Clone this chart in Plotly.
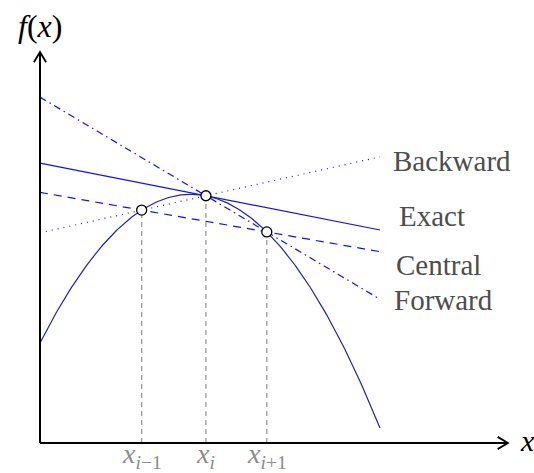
import numpy as np
import plotly.graph_objects as go

# f(x) = c0 + c1*x + c2*x^2, a concave parabola on [0, 10]
coef = [2.94, 1.972, -0.2222]
x_domain = [0.0, 10.0]

# stencil nodes x_{i-1}, x_i, x_{i+1}
nodes = [2.99, 4.88, 6.67]
node_labels = ["<i>x</i><sub><i>i</i>−1</sub>", "<i>x</i><sub><i>i</i></sub>", "<i>x</i><sub><i>i</i>+1</sub>"]

line_names = ["Backward", "Exact", "Central", "Forward"]
label_dx = [0.32, 0.50, 0.41, 0.35]
label_dy = [-0.12, 0.41, -0.39, -0.03]
dash_styles = ["1px,5px", "solid", "8px,6px", "7px,4px,1.5px,4px"]

axis_len_x = 13.76
axis_len_y = 11.5

BLUE = "#1010ff"
CURVE = "#2222a8"
SERIF = "'Liberation Serif', 'DejaVu Serif', serif"


def f(x):
    x = np.asarray(x, dtype=float)
    return coef[0] + coef[1] * x + coef[2] * x ** 2


def fprime(x):
    return coef[1] + 2 * coef[2] * x


xm, xi, xp = nodes
# each approximation: (anchor x, slope); lines pass through (anchor, f(anchor))
approx = {
    "Backward": (xi, (f(xi) - f(xm)) / (xi - xm)),
    "Exact": (xi, fprime(xi)),
    "Central": (xm, (f(xp) - f(xm)) / (xp - xm)),
    "Forward": (xi, (f(xp) - f(xi)) / (xp - xi)),
}

fig = go.Figure()

xs_line = np.array(x_domain)
for name, dash in zip(line_names, dash_styles):
    x0, s = approx[name]
    ys = f(x0) + s * (xs_line - x0)
    fig.add_trace(go.Scatter(x=xs_line, y=ys, mode="lines",
                             line=dict(color=BLUE, width=1.2, dash=dash),
                             hoverinfo="skip"))

# the function itself
xs = np.linspace(x_domain[0], x_domain[1], 300)
fig.add_trace(go.Scatter(x=xs, y=f(xs), mode="lines",
                         line=dict(color=CURVE, width=1.2), hoverinfo="skip"))

# drop lines from the nodes to the x axis
for xn in nodes:
    fig.add_shape(type="line", x0=xn, x1=xn, y0=0, y1=float(f(xn)),
                  line=dict(color="#9a9a9a", width=1.3, dash="5px,4px"), layer="below")

# node markers
fig.add_trace(go.Scatter(x=nodes, y=f(nodes), mode="markers",
                         marker=dict(size=10, color="white",
                                     line=dict(color="black", width=1.3)),
                         hoverinfo="skip"))

# axes with open arrow tips
ax_line = dict(color="black", width=2)
fig.add_shape(type="line", x0=0, y0=0, x1=axis_len_x, y1=0, line=ax_line)
fig.add_shape(type="line", x0=0, y0=0, x1=0, y1=axis_len_y, line=ax_line)
ah_l, ah_w = 0.30, 0.18
fig.add_shape(type="path",
              path=f"M {axis_len_x - ah_l} {ah_w} L {axis_len_x} 0 L {axis_len_x - ah_l} {-ah_w}",
              line=dict(color="black", width=1.8))
fig.add_shape(type="path",
              path=f"M {-ah_w} {axis_len_y - ah_l} L 0 {axis_len_y} L {ah_w} {axis_len_y - ah_l}",
              line=dict(color="black", width=1.8))

ann = []
ann.append(dict(x=0, y=axis_len_y + 0.76, text="<i>f</i>(<i>x</i>)", showarrow=False,
                xanchor="center", yanchor="middle",
                font=dict(family=SERIF, size=32, color="black")))
ann.append(dict(x=axis_len_x + 0.30, y=0.06, text="<i>x</i>", showarrow=False,
                xanchor="left", yanchor="middle",
                font=dict(family=SERIF, size=30, color="black")))

for name, dx, dy in zip(line_names, label_dx, label_dy):
    x0, s = approx[name]
    y_end = float(f(x0) + s * (x_domain[1] - x0))
    ann.append(dict(x=x_domain[1] + dx, y=y_end + dy, text=name, showarrow=False,
                    xanchor="left", yanchor="middle",
                    font=dict(family=SERIF, size=29, color="#4d4d4d")))

for xn, lab in zip(nodes, node_labels):
    ann.append(dict(x=xn, y=-0.38, text=lab, showarrow=False,
                    xanchor="center", yanchor="middle",
                    font=dict(family=SERIF, size=28, color="#8c8c8c")))

W, H = 534, 473
px_per_unit = 34.0
ox, oy = 40.0, 443.0
fig.update_layout(
    width=W, height=H,
    margin=dict(l=0, r=0, t=0, b=0),
    paper_bgcolor="white", plot_bgcolor="white",
    showlegend=False,
    annotations=ann,
    xaxis=dict(range=[-ox / px_per_unit, (W - ox) / px_per_unit],
               visible=False, fixedrange=True),
    yaxis=dict(range=[-(H - oy) / px_per_unit, oy / px_per_unit],
               visible=False, fixedrange=True),
)

fig.write_html("out.html")
